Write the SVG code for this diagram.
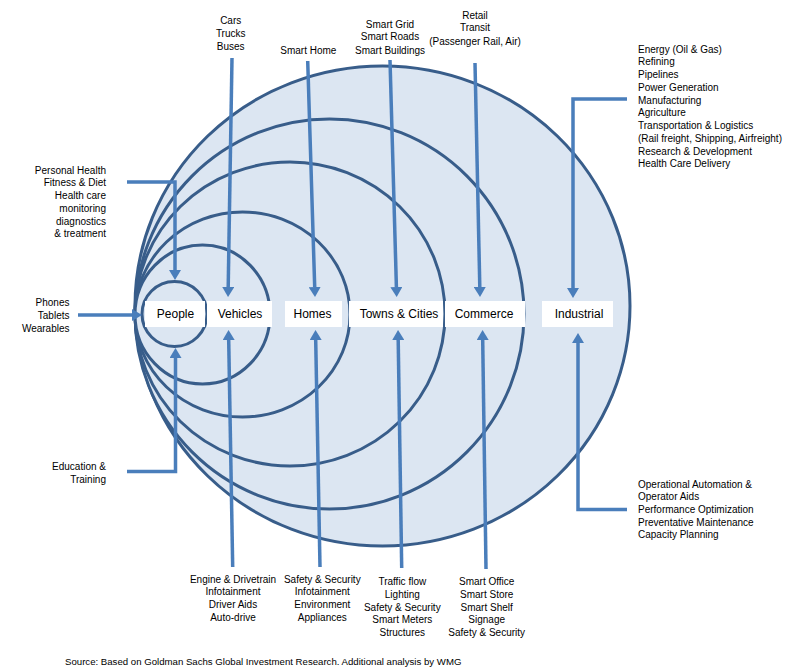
<svg xmlns="http://www.w3.org/2000/svg" width="804" height="670" viewBox="0 0 804 670">
<style>
.ring{fill:#dce6f2;stroke:#385d8a;stroke-width:3}
.box{fill:#ffffff}
.node{font-family:"Liberation Sans",Arial,sans-serif;font-size:12px;fill:#000;text-anchor:middle}
.lbl{font-family:"Liberation Sans",Arial,sans-serif;font-size:10px;fill:#000}
.c{fill:none;stroke:#4a7ebb;stroke-width:3.5;marker-end:url(#ah)}
</style>
<defs>
<marker id="ah" markerUnits="userSpaceOnUse" markerWidth="10" markerHeight="12" refX="0" refY="6" orient="auto">
<path d="M0,0 L10,6 L0,12 z" fill="#4a7ebb"/>
</marker>
</defs>
<rect width="804" height="670" fill="#ffffff"/>
<g id="rings">
<ellipse class="ring" cx="382.5" cy="306" rx="247.5" ry="240"/>
<ellipse class="ring" cx="329.5" cy="314" rx="194.5" ry="195"/>
<ellipse class="ring" cx="290" cy="314" rx="155" ry="152"/>
<ellipse class="ring" cx="242.5" cy="314.5" rx="107.5" ry="102.5"/>
<ellipse class="ring" cx="202.5" cy="314.5" rx="67.5" ry="69.5"/>
<circle class="ring" cx="174.5" cy="314" r="32.5"/>
</g>
<g id="connectors">
<path class="c" d="M232,58 L228.2,287"/>
<path class="c" d="M307.7,61 L314.7,287"/>
<path class="c" d="M390,60 L396.4,287"/>
<path class="c" d="M475,63 L479.8,287"/>
<path class="c" d="M627,99 L573,99 L573,288"/>
<path class="c" d="M127,182 L175,182 L175,270"/>
<path class="c" d="M78,315 L132,315"/>
<path class="c" d="M127,471.5 L175.5,471.5 L175.5,358"/>
<path class="c" d="M232.7,567 L228.7,340"/>
<path class="c" d="M320,567 L315.7,340"/>
<path class="c" d="M401.7,568 L398.2,340"/>
<path class="c" d="M486,569 L482.7,340"/>
<path class="c" d="M627,509.5 L578,509.5 L578,343"/>
</g>
<g id="people"><rect class="box" x="145" y="301" width="60" height="26"/><text class="node" x="175.5" y="318.3">People</text></g>
<g id="vehicles"><rect class="box" x="207" y="301" width="65" height="26"/><text class="node" x="240" y="318.3">Vehicles</text></g>
<g id="homes"><rect class="box" x="285" y="301" width="57" height="26"/><text class="node" x="312.5" y="318.3">Homes</text></g>
<g id="towns"><rect class="box" x="349" y="301" width="94" height="26"/><text class="node" x="399" y="318.3">Towns &amp; Cities</text></g>
<g id="commerce"><rect class="box" x="445" y="301" width="80" height="26"/><text class="node" x="484" y="318.3">Commerce</text></g>
<g id="industrial"><rect class="box" x="542" y="301" width="71" height="26"/><text class="node" x="579" y="318.3">Industrial</text></g>
<g id="labels">
<text class="lbl" text-anchor="end"><tspan x="106" y="173.5">Personal Health</tspan><tspan x="106" y="186.3">Fitness &amp; Diet</tspan><tspan x="106" y="199">Health care</tspan><tspan x="106" y="211.8">monitoring</tspan><tspan x="106" y="224.5">diagnostics</tspan><tspan x="106" y="237.3">&amp; treatment</tspan></text>
<text class="lbl" text-anchor="end"><tspan x="69.5" y="306.2">Phones</tspan><tspan x="69.5" y="319.2">Tablets</tspan><tspan x="69.5" y="331.8">Wearables</tspan></text>
<text class="lbl" text-anchor="end"><tspan x="106" y="469.5">Education &amp;</tspan><tspan x="106" y="482.5">Training</tspan></text>
<text class="lbl" text-anchor="middle"><tspan x="230.7" y="24.2">Cars</tspan><tspan x="230.7" y="37.2">Trucks</tspan><tspan x="230.7" y="50.2">Buses</tspan></text>
<text class="lbl" text-anchor="middle" x="308.3" y="53.5">Smart Home</text>
<text class="lbl" text-anchor="middle"><tspan x="390" y="27.5">Smart Grid</tspan><tspan x="390" y="40.2">Smart Roads</tspan><tspan x="390" y="53.5">Smart Buildings</tspan></text>
<text class="lbl" text-anchor="middle"><tspan x="475" y="18.5">Retail</tspan><tspan x="475" y="31.2">Transit</tspan><tspan x="475" y="44.5">(Passenger Rail, Air)</tspan></text>
<text class="lbl"><tspan x="638" y="52.5">Energy (Oil &amp; Gas)</tspan><tspan x="638" y="65.2">Refining</tspan><tspan x="638" y="78">Pipelines</tspan><tspan x="638" y="90.7">Power Generation</tspan><tspan x="638" y="103.5">Manufacturing</tspan><tspan x="638" y="116.2">Agriculture</tspan><tspan x="638" y="129">Transportation &amp; Logistics</tspan><tspan x="638" y="141.7">(Rail freight, Shipping, Airfreight)</tspan><tspan x="638" y="154.5">Research &amp; Development</tspan><tspan x="638" y="167.2">Health Care Delivery</tspan></text>
<text class="lbl"><tspan x="638" y="487.5">Operational Automation &amp;</tspan><tspan x="638" y="500.2">Operator Aids</tspan><tspan x="638" y="512.9">Performance Optimization</tspan><tspan x="638" y="525.6">Preventative Maintenance</tspan><tspan x="638" y="538.3">Capacity Planning</tspan></text>
<text class="lbl" text-anchor="middle"><tspan x="233" y="582.5">Engine &amp; Drivetrain</tspan><tspan x="233" y="595.2">Infotainment</tspan><tspan x="233" y="607.9">Driver Aids</tspan><tspan x="233" y="620.6">Auto-drive</tspan></text>
<text class="lbl" text-anchor="middle"><tspan x="322.3" y="582.5">Safety &amp; Security</tspan><tspan x="322.3" y="595.2">Infotainment</tspan><tspan x="322.3" y="607.9">Environment</tspan><tspan x="322.3" y="620.6">Appliances</tspan></text>
<text class="lbl" text-anchor="middle"><tspan x="402.3" y="585.2">Traffic flow</tspan><tspan x="402.3" y="597.9">Lighting</tspan><tspan x="402.3" y="610.6">Safety &amp; Security</tspan><tspan x="402.3" y="623.3">Smart Meters</tspan><tspan x="402.3" y="636">Structures</tspan></text>
<text class="lbl" text-anchor="middle"><tspan x="486.7" y="585.2">Smart Office</tspan><tspan x="486.7" y="597.9">Smart Store</tspan><tspan x="486.7" y="610.6">Smart Shelf</tspan><tspan x="486.7" y="623.3">Signage</tspan><tspan x="486.7" y="636">Safety &amp; Security</tspan></text>
<text class="lbl" x="65" y="664.5" style="font-size:9.65px">Source: Based on Goldman Sachs Global Investment Research. Additional analysis by WMG</text>
</g>
</svg>
